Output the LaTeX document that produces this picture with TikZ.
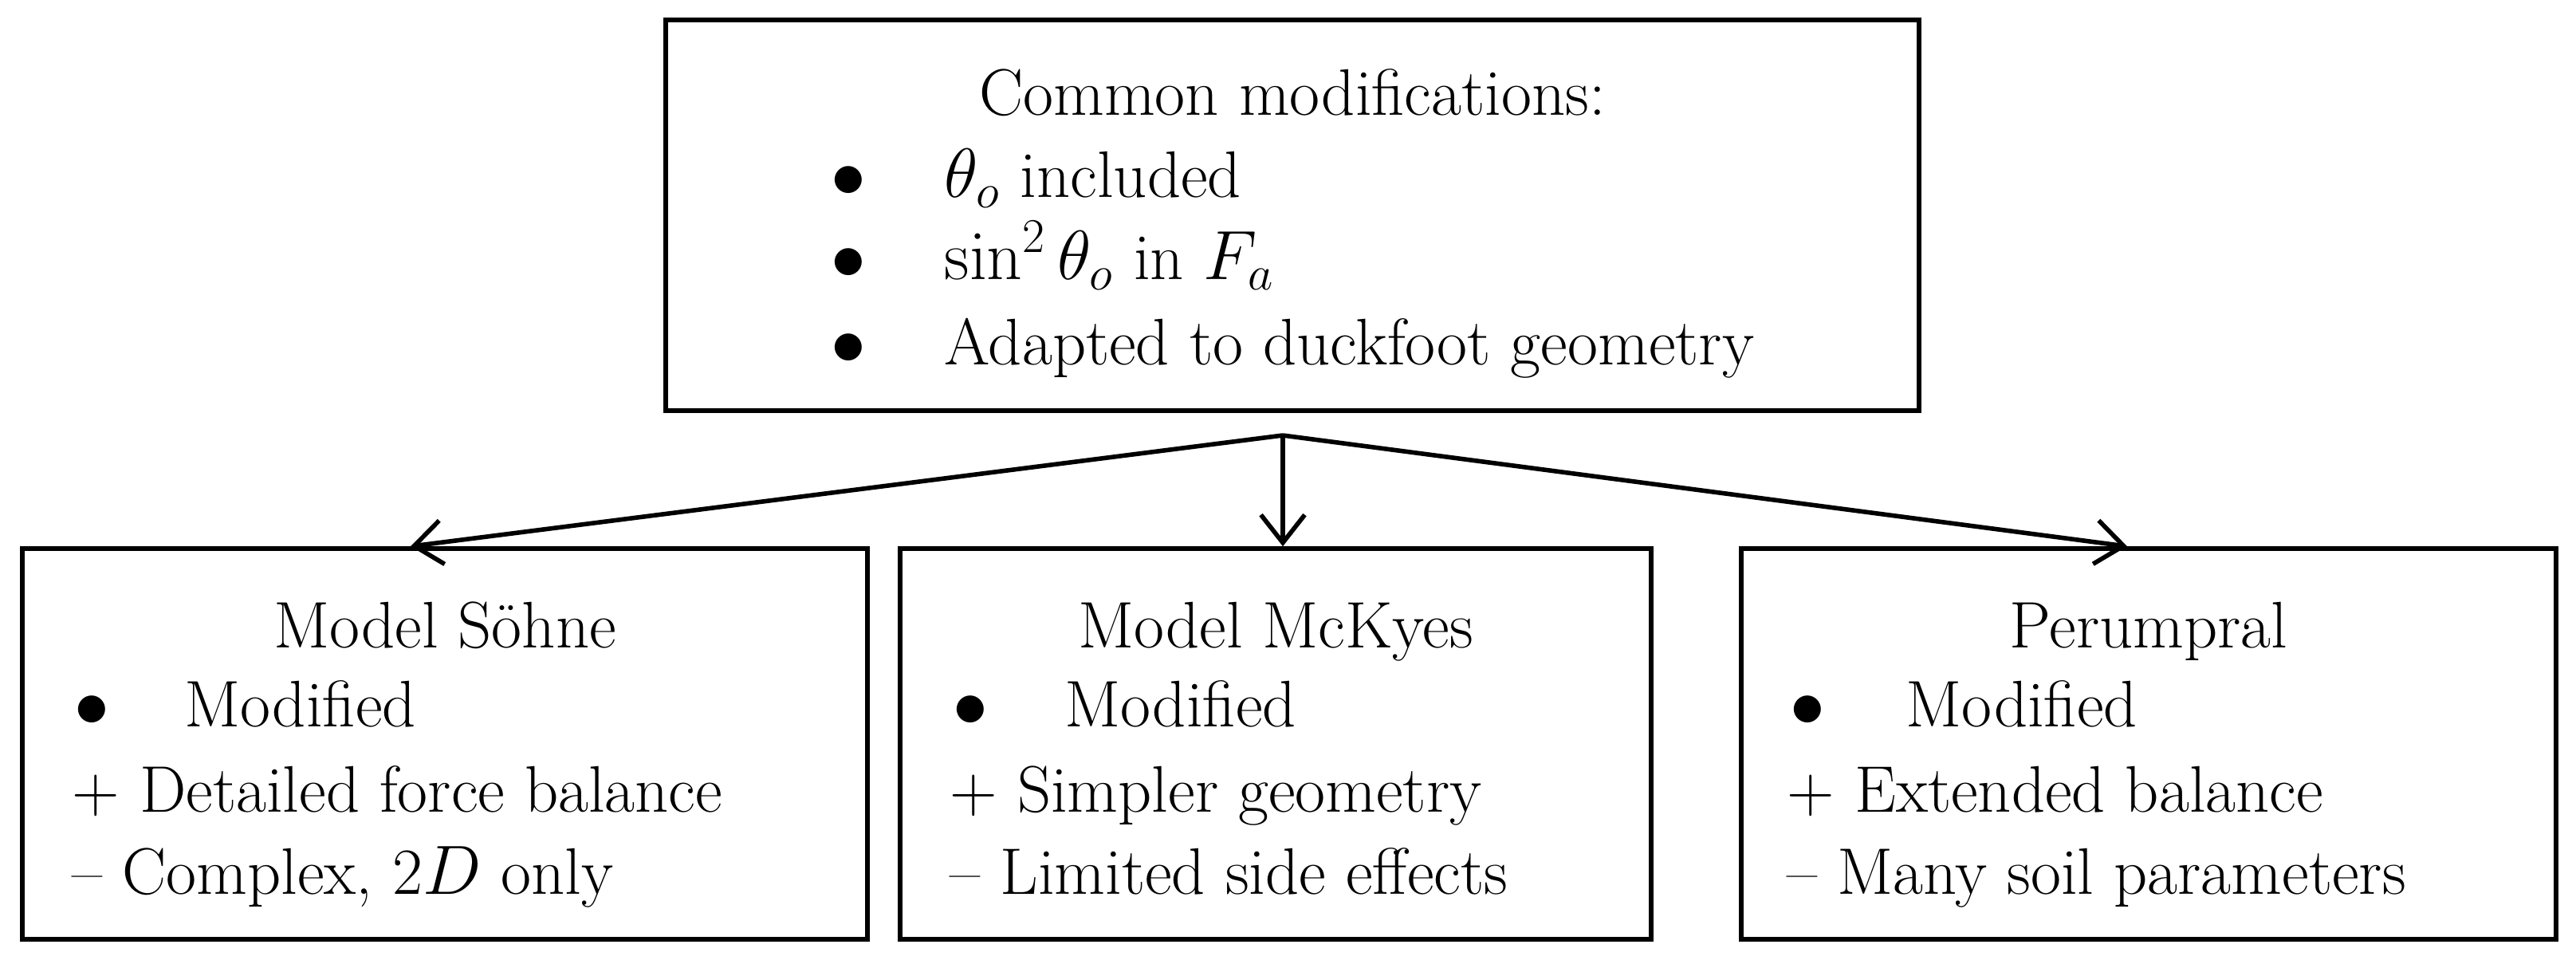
\documentclass[tikz,border=0pt]{standalone}
\usetikzlibrary{arrows.meta,positioning}
\begin{document}
\begin{tikzpicture}[box/.style={draw, line width=1.6pt, minimum height=4.9cm, inner sep=0pt},
  txt/.style={anchor=base west, inner sep=0pt, font=\fontsize{23.5}{28}\selectfont},
  ttl/.style={anchor=base, inner sep=0pt, font=\fontsize{23.5}{28}\selectfont}]
    \tikzset{arr/.style={line width=1.6pt, -{Straight Barb[length=0.35cm,width=0.55cm,line width=1.6pt]}}}
    \useasboundingbox (0,0) rectangle (32.31,12.08);
    % boxes
    \node[box, minimum width=15.72cm] (common) at (16.21,9.38) {};
    \node[box, minimum width=10.6cm] (sohne) at (5.58,2.75) {};
    \node[box, minimum width=9.42cm] (mckyes) at (16.0,2.75) {};
    \node[box, minimum width=10.22cm] (perum) at (26.95,2.75) {};
    % top text
    \node[ttl] (ctitle) at (16.21,10.64) {Common modifications:};
    \node[txt] (cb1) at (10.42,9.61) {$\bullet$};
    \node[txt] (ct1) at (11.84,9.61) {$\theta_o$ included};
    \node[txt] (cb2) at (10.42,8.58) {$\bullet$};
    \node[txt] (ct2) at (11.84,8.58) {$\sin^2\theta_o$ in $F_a$};
    \node[txt] (cb3) at (10.42,7.51) {$\bullet$};
    \node[txt] (ct3) at (11.84,7.51) {Adapted to duckfoot geometry};
    % left box
    \node[ttl] (stitle) at (5.58,3.96) {Model Söhne};
    \node[txt] (sb) at (0.93,2.97) {$\bullet$};
    \node[txt] (sm) at (2.31,2.97) {Modified};
    \node[txt] (sp) at (0.90,1.90) {+ Detailed force balance};
    \node[txt] (sn) at (0.90,0.87) {– Complex, 2$D$ only};
    % middle box
    \node[ttl] (mtitle) at (16.0,3.96) {Model McKyes};
    \node[txt] (mb) at (11.95,2.97) {$\bullet$};
    \node[txt] (mm) at (13.35,2.97) {Modified};
    \node[txt] (mp) at (11.91,1.90) {+ Simpler geometry};
    \node[txt] (mn) at (11.91,0.87) {– Limited side effects};
    % right box
    \node[ttl] (ptitle) at (26.95,3.96) {Perumpral};
    \node[txt] (pb) at (22.45,2.97) {$\bullet$};
    \node[txt] (pm) at (23.90,2.97) {Modified};
    \node[txt] (pp) at (22.41,1.90) {+ Extended balance};
    \node[txt] (pn) at (22.41,0.87) {– Many soil parameters};
    % arrows
    \coordinate (split) at (16.09,6.62);
    \draw[arr] (split) -- ([xshift=-0.43cm]sohne.north);
    \draw[arr] (split) -- ([xshift=0.09cm]mckyes.north);
    \draw[arr] (split) -- ([xshift=-0.27cm]perum.north);
\end{tikzpicture}
\end{document}
